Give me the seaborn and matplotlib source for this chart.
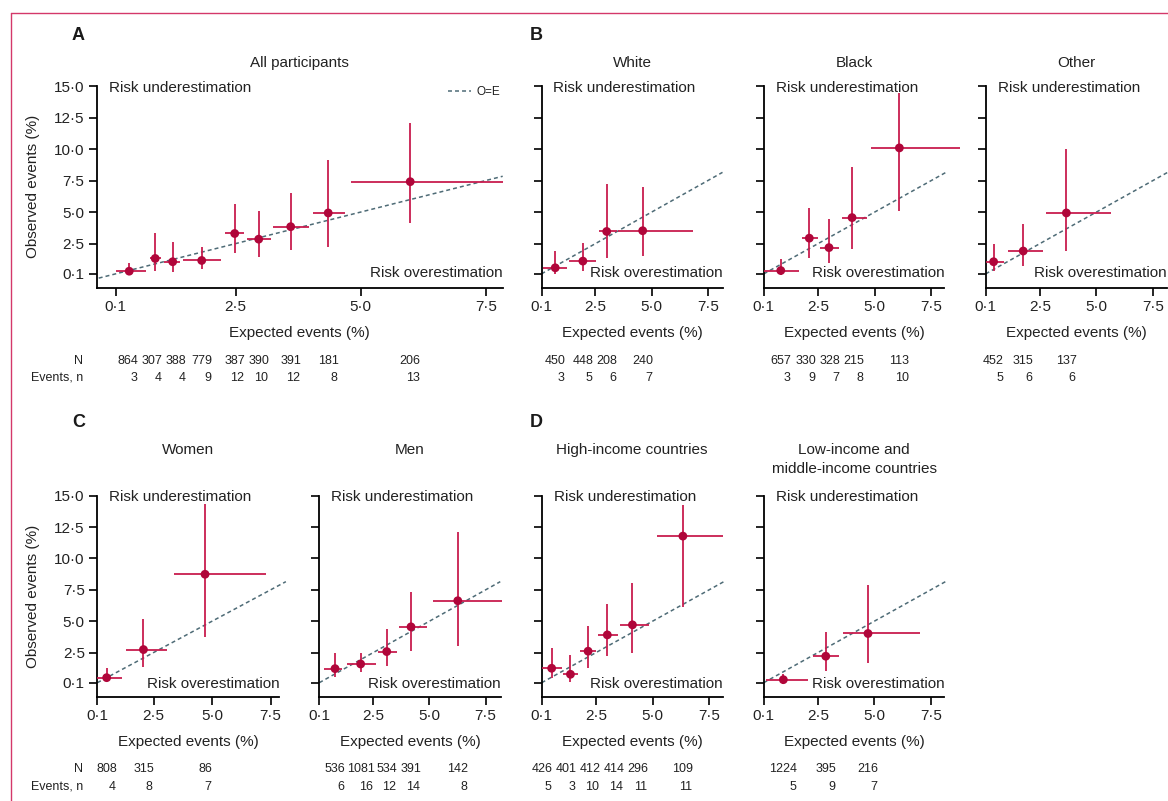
import matplotlib
matplotlib.use("Agg")
import matplotlib.pyplot as plt
from matplotlib.lines import Line2D
import pandas as pd
import seaborn as sns

# ---- data (expected vs observed, %) ----
ALL_EXP = [0.37, 0.89, 1.24, 1.82, 2.48, 2.96, 3.60, 4.35, 5.99]
ALL_EXP_LO = [0.10, 0.79, 1.07, 1.44, 2.29, 2.73, 3.24, 4.05, 4.81]
ALL_EXP_HI = [0.70, 1.00, 1.39, 2.20, 2.66, 3.20, 3.97, 4.69, 7.84]
ALL_OBS = [0.31, 1.32, 1.06, 1.16, 3.30, 2.85, 3.84, 4.93, 7.41]
ALL_OBS_LO = [0.05, 0.36, 0.26, 0.52, 1.78, 1.43, 2.02, 2.23, 4.10]
ALL_OBS_HI = [0.92, 3.30, 2.63, 2.23, 5.60, 5.12, 6.48, 9.12, 12.06]
ALL_N = [864, 307, 388, 779, 387, 390, 391, 181, 206]
ALL_EVENTS = [3, 4, 4, 9, 12, 10, 12, 8, 13]

WHITE_EXP = [0.71, 1.94, 3.00, 4.60]
WHITE_EXP_LO = [0.16, 1.31, 2.67, 3.50]
WHITE_EXP_HI = [1.22, 2.54, 3.46, 6.86]
WHITE_OBS = [0.58, 1.11, 3.46, 3.52]
WHITE_OBS_LO = [0.12, 0.36, 1.32, 1.48]
WHITE_OBS_HI = [1.91, 2.58, 7.20, 6.99]
WHITE_N = [450, 448, 208, 240]
WHITE_EVENTS = [3, 5, 6, 7]

BLACK_EXP = [0.85, 2.11, 2.98, 4.00, 6.09]
BLACK_EXP_LO = [0.10, 1.78, 2.59, 3.54, 4.84]
BLACK_EXP_HI = [1.66, 2.48, 3.43, 4.68, 8.76]
BLACK_OBS = [0.36, 2.93, 2.18, 4.56, 10.09]
BLACK_OBS_LO = [0.04, 1.32, 0.92, 2.05, 5.06]
BLACK_OBS_HI = [1.27, 5.33, 4.45, 8.54, 14.41]
BLACK_N = [657, 330, 328, 215, 113]
BLACK_EVENTS = [3, 9, 7, 8, 10]

OTHER_EXP = [0.45, 1.76, 3.67]
OTHER_EXP_LO = [0.10, 1.10, 2.76]
OTHER_EXP_HI = [0.92, 2.62, 5.66]
OTHER_OBS = [1.06, 1.91, 4.93]
OTHER_OBS_LO = [0.31, 0.71, 1.91]
OTHER_OBS_HI = [2.45, 4.02, 10.00]
OTHER_N = [452, 315, 137]
OTHER_EVENTS = [5, 6, 6]

WOMEN_EXP = [0.50, 2.07, 4.70]
WOMEN_EXP_LO = [0.10, 1.33, 3.36]
WOMEN_EXP_HI = [1.14, 3.09, 7.29]
WOMEN_OBS = [0.50, 2.74, 8.74]
WOMEN_OBS_LO = [0.21, 1.33, 3.78]
WOMEN_OBS_HI = [1.25, 5.14, 14.31]
WOMEN_N = [808, 315, 86]
WOMEN_EVENTS = [4, 8, 7]

MEN_EXP = [0.80, 1.94, 3.10, 4.18, 6.26]
MEN_EXP_LO = [0.32, 1.32, 2.73, 3.66, 5.17]
MEN_EXP_HI = [1.12, 2.61, 3.54, 4.88, 8.24]
MEN_OBS = [1.22, 1.59, 2.58, 4.55, 6.63]
MEN_OBS_LO = [0.53, 0.93, 1.41, 2.61, 3.01]
MEN_OBS_HI = [2.47, 2.47, 4.37, 7.32, 12.09]
MEN_N = [536, 1081, 534, 391, 142]
MEN_EVENTS = [6, 16, 12, 14, 8]

HIC_EXP = [0.54, 1.37, 2.15, 3.00, 4.11, 6.34]
HIC_EXP_LO = [0.10, 1.06, 1.80, 2.58, 3.56, 5.20]
HIC_EXP_HI = [0.98, 1.69, 2.50, 3.46, 4.85, 8.10]
HIC_OBS = [1.25, 0.77, 2.61, 3.91, 4.71, 11.78]
HIC_OBS_LO = [0.47, 0.18, 1.27, 2.21, 2.45, 6.12]
HIC_OBS_HI = [2.85, 2.29, 4.61, 6.39, 8.07, 14.25]
HIC_N = [426, 401, 412, 414, 296, 109]
HIC_EVENTS = [5, 3, 10, 14, 11, 11]

LMIC_EXP = [0.97, 2.85, 4.72]
LMIC_EXP_LO = [0.19, 2.30, 3.63]
LMIC_EXP_HI = [2.08, 3.44, 7.03]
LMIC_OBS = [0.34, 2.21, 4.02]
LMIC_OBS_LO = [0.00, 1.06, 1.67]
LMIC_OBS_HI = [0.79, 4.15, 7.91]
LMIC_N = [1224, 395, 216]
LMIC_EVENTS = [5, 9, 7]

X_TICKS = [0.1, 2.5, 5.0, 7.5]
Y_TICKS = [0.1, 2.5, 5.0, 7.5, 10.0, 12.5, 15.0]

# ---- styling ----
W, H = 1168, 801
MARKER = "#b0063a"
BAR = "#c81c4e"
DASH = "#4e6b76"
FRAME = "#d4386a"
FS = 11
TABLE_FS = 9.0
DIGIT_PX = 0.556 * TABLE_FS * 100 / 72  # approx digit width in pixels
LABEL_GAP_PX = 24.0  # minimum spacing between N labels


def dot(v):
    return f"{v:.1f}".replace(".", "\u00b7")


def rect(left, top, right, bottom):
    return [left / W, 1 - bottom / H, (right - left) / W, (bottom - top) / H]


def spread(xs, gap):
    # push table labels apart so neighbours never collide, keeping clusters centred
    clusters = [[x] for x in xs]
    merged = True
    while merged:
        merged = False
        for i in range(len(clusters) - 1):
            a, b = clusters[i], clusters[i + 1]
            ca, cb = sum(a) / len(a), sum(b) / len(b)
            if cb - ca < (len(a) + len(b)) / 2 * gap:
                clusters[i] = a + b
                del clusters[i + 1]
                merged = True
                break
    out = []
    for c in clusters:
        mid = sum(c) / len(c)
        out += [mid + (k - (len(c) - 1) / 2) * gap for k in range(len(c))]
    return out


sns.set_theme(style="ticks")
plt.rcParams["font.family"] = ["Liberation Sans", "DejaVu Sans"]
plt.rcParams["font.size"] = FS
plt.rcParams["text.color"] = "#222222"


def draw_panel(fig, box, xlim, title, exp, exp_lo, exp_hi, obs, obs_lo, obs_hi,
               n, events, row, first_col=False, legend=False):
    ax = fig.add_axes(rect(*box))
    df = pd.DataFrame({"exp": exp, "exp_lo": exp_lo, "exp_hi": exp_hi,
                       "obs": obs, "obs_lo": obs_lo, "obs_hi": obs_hi})
    ax.set_xlim(*xlim)
    ax.set_ylim(-1.0, 15.0)
    height_px = box[3] - box[1]
    px_per_unit = (box[2] - box[0]) / (xlim[1] - xlim[0])

    # O=E reference line over the axis range
    x0 = xlim[0] + 0.04 if xlim[0] < 0 else 0.1
    x1 = xlim[1] if xlim[0] < 0 else 8.15
    sns.lineplot(x=[x0, x1], y=[x0, x1], ax=ax, color=DASH, lw=1.1,
                 linestyle=(0, (2.6, 2.0)), label="O=E" if legend else None,
                 legend=False, zorder=2, clip_on=False)

    ax.hlines(df["obs"], df["exp_lo"], df["exp_hi"], color=BAR, lw=1.3,
              zorder=3, clip_on=False)
    ax.vlines(df["exp"], df["obs_lo"], df["obs_hi"], color=BAR, lw=1.3,
              zorder=3, clip_on=False)
    sns.scatterplot(data=df, x="exp", y="obs", ax=ax, color=MARKER, s=40,
                    edgecolor="none", zorder=4, clip_on=False)

    sns.despine(ax=ax)
    for side in ("left", "bottom"):
        ax.spines[side].set_color("black")
        ax.spines[side].set_linewidth(1.3)
    ax.set_xticks(X_TICKS)
    ax.set_xticklabels([dot(v) for v in X_TICKS])
    ax.set_yticks(Y_TICKS)
    ax.set_yticklabels([dot(v) for v in Y_TICKS] if first_col else [])
    ax.tick_params(direction="out", length=6, width=1.2, color="black",
                   labelsize=FS, pad=3, labelcolor="#222222")
    ax.set_xlabel("")
    ax.set_ylabel("")

    ax.annotate("Risk underestimation", xy=(0, 15.0),
                xycoords=("axes fraction", "data"), xytext=(8.5, 0),
                textcoords="offset points", ha="left", va="center_baseline",
                fontsize=FS)
    ax.annotate("Risk overestimation", xy=(1, 0.25 if row == 0 else 0.15),
                xycoords=("axes fraction", "data"), ha="right",
                va="center_baseline", fontsize=FS, annotation_clip=False)

    ax.text(0.5, -45.6 / height_px, "Expected events (%)",
            transform=ax.transAxes, ha="center", va="center", fontsize=FS)

    if row == 0:
        ax.text(0.5, 1 + 23.3 / height_px, title, transform=ax.transAxes,
                ha="center", va="center", fontsize=FS)
    else:
        ax.text(0.5, 1 + 53.0 / height_px, title, transform=ax.transAxes,
                ha="center", va="top", fontsize=FS, linespacing=1.45)

    # N / events table under the axis, following the points
    label_x = spread(list(exp), LABEL_GAP_PX / px_per_unit)
    for xv, nv, ev in zip(label_x, n, events):
        ax.annotate(str(nv), xy=(xv, -72.8 / height_px),
                    xycoords=("data", "axes fraction"), ha="center",
                    va="center", fontsize=TABLE_FS, annotation_clip=False)
        right_px = len(str(nv)) * DIGIT_PX / 2 - 1.0
        ax.annotate(str(ev), xy=(xv, -90.0 / height_px),
                    xycoords=("data", "axes fraction"),
                    xytext=(right_px * 0.72, 0), textcoords="offset points",
                    ha="right", va="center", fontsize=TABLE_FS,
                    annotation_clip=False)

    if legend:
        ax.legend(loc="upper right", frameon=False, fontsize=8.5,
                  handlelength=1.9, handletextpad=0.5, borderaxespad=0,
                  borderpad=0.2, bbox_to_anchor=(1.0, 1.01))
    return ax


fig = plt.figure(figsize=(W / 100, H / 100), dpi=100)

R1 = (86.0, 287.7)
R2 = (495.7, 696.5)

draw_panel(fig, (96.7, R1[0], 502.7, R1[1]), (-0.28, 7.84), "All participants",
           ALL_EXP, ALL_EXP_LO, ALL_EXP_HI, ALL_OBS, ALL_OBS_LO, ALL_OBS_HI,
           ALL_N, ALL_EVENTS, 0, first_col=True, legend=True)
draw_panel(fig, (541.5, R1[0], 722.5, R1[1]), (0.1, 8.15), "White",
           WHITE_EXP, WHITE_EXP_LO, WHITE_EXP_HI, WHITE_OBS, WHITE_OBS_LO,
           WHITE_OBS_HI, WHITE_N, WHITE_EVENTS, 0)
draw_panel(fig, (763.8, R1[0], 944.4, R1[1]), (0.1, 8.08), "Black",
           BLACK_EXP, BLACK_EXP_LO, BLACK_EXP_HI, BLACK_OBS, BLACK_OBS_LO,
           BLACK_OBS_HI, BLACK_N, BLACK_EVENTS, 0)
draw_panel(fig, (985.7, R1[0], 1166.5, R1[1]), (0.1, 8.1), "Other",
           OTHER_EXP, OTHER_EXP_LO, OTHER_EXP_HI, OTHER_OBS, OTHER_OBS_LO,
           OTHER_OBS_HI, OTHER_N, OTHER_EVENTS, 0)

draw_panel(fig, (97.3, R2[0], 279.3, R2[1]), (0.1, 7.87), "Women",
           WOMEN_EXP, WOMEN_EXP_LO, WOMEN_EXP_HI, WOMEN_OBS, WOMEN_OBS_LO,
           WOMEN_OBS_HI, WOMEN_N, WOMEN_EVENTS, 1, first_col=True)
draw_panel(fig, (319.3, R2[0], 500.7, R2[1]), (0.1, 8.17), "Men",
           MEN_EXP, MEN_EXP_LO, MEN_EXP_HI, MEN_OBS, MEN_OBS_LO, MEN_OBS_HI,
           MEN_N, MEN_EVENTS, 1)
draw_panel(fig, (541.7, R2[0], 722.7, R2[1]), (0.1, 8.1), "High-income countries",
           HIC_EXP, HIC_EXP_LO, HIC_EXP_HI, HIC_OBS, HIC_OBS_LO, HIC_OBS_HI,
           HIC_N, HIC_EVENTS, 1)
draw_panel(fig, (763.7, R2[0], 944.3, R2[1]), (0.1, 8.1),
           "Low-income and\nmiddle-income countries",
           LMIC_EXP, LMIC_EXP_LO, LMIC_EXP_HI, LMIC_OBS, LMIC_OBS_LO,
           LMIC_OBS_HI, LMIC_N, LMIC_EVENTS, 1)

# shared labels
for yc in ((R1[0] + R1[1]) / 2, (R2[0] + R2[1]) / 2):
    fig.text(33.3 / W, 1 - yc / H, "Observed events (%)", rotation=90,
             ha="center", va="center", fontsize=FS)
for yn, ye in ((360.7, 377.7), (769.3, 786.7)):
    fig.text(83.3 / W, 1 - yn / H, "N", ha="right", va="center",
             fontsize=TABLE_FS)
    fig.text(83.3 / W, 1 - ye / H, "Events, n", ha="right", va="center",
             fontsize=TABLE_FS)

for letter, (lx, ly) in zip("ABCD", [(78, 36), (536.5, 36), (79, 422.5), (536, 422.5)]):
    fig.text(lx / W, 1 - ly / H, letter, ha="center", va="center",
             fontsize=13, fontweight="bold", color="#1a1a1a")

# crimson frame lines (top and left)
fig.add_artist(Line2D([10.7 / W, 10.7 / W], [0, 1 - 12.7 / H],
                      transform=fig.transFigure, color=FRAME, lw=1.0))
fig.add_artist(Line2D([10.7 / W, 1], [1 - 12.7 / H, 1 - 12.7 / H],
                      transform=fig.transFigure, color=FRAME, lw=1.0))

fig.savefig("out.png", dpi=100, facecolor="white")
